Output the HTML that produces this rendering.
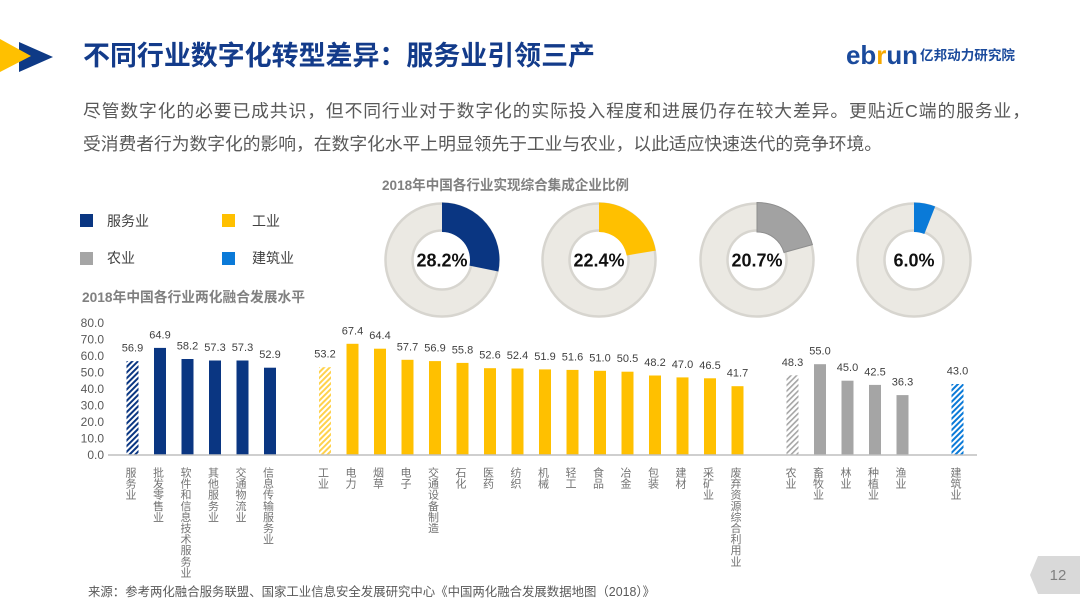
<!DOCTYPE html>
<html><head><meta charset="utf-8"><style>
html,body{margin:0;padding:0;background:#fff;}
svg{display:block;}
text{font-family:"Liberation Sans","Noto Sans CJK SC",sans-serif;}
</style></head><body>
<svg width="1080" height="608" viewBox="0 0 1080 608" xmlns="http://www.w3.org/2000/svg">
<defs>
<pattern id="hN" width="4" height="4" patternUnits="userSpaceOnUse" patternTransform="rotate(45)"><rect width="4" height="4" fill="#fff"/><rect width="2" height="4" fill="#0a3682"/></pattern>
<pattern id="hY" width="4" height="4" patternUnits="userSpaceOnUse" patternTransform="rotate(45)"><rect width="4" height="4" fill="#fff"/><rect width="2" height="4" fill="#ffd24d"/></pattern>
<pattern id="hG" width="4" height="4" patternUnits="userSpaceOnUse" patternTransform="rotate(45)"><rect width="4" height="4" fill="#fff"/><rect width="1.6" height="4" fill="#a5a5a5"/></pattern>
<pattern id="hB" width="4" height="4" patternUnits="userSpaceOnUse" patternTransform="rotate(45)"><rect width="4" height="4" fill="#fff"/><rect width="2" height="4" fill="#0a7ad8"/></pattern>
</defs>

<!-- header arrows -->
<polygon points="19,42 53,57 19,72" fill="#0e3a86"/>
<polygon points="0,39 31,56 0,72" fill="#ffc000"/>
<text x="83" y="65" font-size="27" font-weight="bold" fill="#133b8a" textLength="512" lengthAdjust="spacingAndGlyphs">不同行业数字化转型差异：服务业引领三产</text>

<!-- logo -->
<text x="846" y="64" font-size="26" font-weight="bold" fill="#1a4a9c" textLength="72" lengthAdjust="spacingAndGlyphs">eb<tspan fill="#f5a800">r</tspan>un</text>
<text x="920" y="60" font-size="13.6" font-weight="bold" fill="#1a4a9c" textLength="95" lengthAdjust="spacingAndGlyphs">亿邦动力研究院</text>

<!-- paragraph -->
<text x="83" y="117" font-size="17.8" fill="#595959" textLength="947" lengthAdjust="spacing">尽管数字化的必要已成共识，但不同行业对于数字化的实际投入程度和进展仍存在较大差异。更贴近C端的服务业，</text>
<text x="83" y="150" font-size="17.8" fill="#595959" textLength="799" lengthAdjust="spacing">受消费者行为数字化的影响，在数字化水平上明显领先于工业与农业，以此适应快速迭代的竞争环境。</text>

<!-- legend -->
<rect x="80" y="214" width="13" height="13" fill="#0a3682"/>
<text x="107" y="226" font-size="14" fill="#404040">服务业</text>
<rect x="222" y="214" width="13" height="13" fill="#ffc000"/>
<text x="252" y="226" font-size="14" fill="#404040">工业</text>
<rect x="80" y="252" width="13" height="13" fill="#a5a5a5"/>
<text x="107" y="263" font-size="14" fill="#404040">农业</text>
<rect x="222" y="252" width="13" height="13" fill="#0a7ad8"/>
<text x="252" y="263" font-size="14" fill="#404040">建筑业</text>

<!-- donut title -->
<text x="382" y="190" font-size="14" font-weight="bold" fill="#808080" textLength="247" lengthAdjust="spacingAndGlyphs">2018年中国各行业实现综合集成企业比例</text>

<!-- donuts -->
<g>
<circle cx="442" cy="260" r="43" fill="none" stroke="#ebe9e3" stroke-width="28"/>
<circle cx="442" cy="260" r="56.5" fill="none" stroke="#d7d5cf" stroke-width="2.5"/>
<circle cx="442" cy="260" r="29.5" fill="none" stroke="#d7d5cf" stroke-width="2.5"/>
<path d="M442,202.5 A57.5,57.5 0 0 1 498.34,271.48 L469.44,265.59 A28,28 0 0 0 442,232 Z" fill="#0a3682"/>
<text x="442" y="266.5" font-size="18" font-weight="bold" fill="#111" text-anchor="middle">28.2%</text>

<circle cx="599" cy="260" r="43" fill="none" stroke="#ebe9e3" stroke-width="28"/>
<circle cx="599" cy="260" r="56.5" fill="none" stroke="#d7d5cf" stroke-width="2.5"/>
<circle cx="599" cy="260" r="29.5" fill="none" stroke="#d7d5cf" stroke-width="2.5"/>
<path d="M599,202.5 A57.5,57.5 0 0 1 655.73,250.65 L626.63,255.44 A28,28 0 0 0 599,232 Z" fill="#ffc000"/>
<text x="599" y="266.5" font-size="18" font-weight="bold" fill="#111" text-anchor="middle">22.4%</text>

<circle cx="757" cy="260" r="43" fill="none" stroke="#ebe9e3" stroke-width="28"/>
<circle cx="757" cy="260" r="56.5" fill="none" stroke="#d7d5cf" stroke-width="2.5"/>
<circle cx="757" cy="260" r="29.5" fill="none" stroke="#d7d5cf" stroke-width="2.5"/>
<path d="M757,202.5 A57.5,57.5 0 0 1 812.41,244.65 L783.98,252.53 A28,28 0 0 0 757,232 Z" fill="#a2a2a2" stroke="#8e8e8e" stroke-width="1"/>
<text x="757" y="266.5" font-size="18" font-weight="bold" fill="#111" text-anchor="middle">20.7%</text>

<circle cx="914" cy="260" r="43" fill="none" stroke="#ebe9e3" stroke-width="28"/>
<circle cx="914" cy="260" r="56.5" fill="none" stroke="#d7d5cf" stroke-width="2.5"/>
<circle cx="914" cy="260" r="29.5" fill="none" stroke="#d7d5cf" stroke-width="2.5"/>
<path d="M914,202.5 A57.5,57.5 0 0 1 935.17,206.54 L924.31,233.97 A28,28 0 0 0 914,232 Z" fill="#0a7ad8"/>
<text x="914" y="266.5" font-size="18" font-weight="bold" fill="#111" text-anchor="middle">6.0%</text>
</g>

<!-- bar chart title -->
<text x="82" y="302" font-size="14" font-weight="bold" fill="#808080" textLength="223" lengthAdjust="spacingAndGlyphs">2018年中国各行业两化融合发展水平</text>

<!-- y axis labels -->
<g font-size="12" fill="#595959" text-anchor="end">
<text x="104" y="459.2">0.0</text>
<text x="104" y="442.7">10.0</text>
<text x="104" y="426.2">20.0</text>
<text x="104" y="409.7">30.0</text>
<text x="104" y="393.2">40.0</text>
<text x="104" y="376.7">50.0</text>
<text x="104" y="360.2">60.0</text>
<text x="104" y="343.7">70.0</text>
<text x="104" y="327.2">80.0</text>
</g>

<!-- bars -->
<g>
<rect x="126.5" y="361.1" width="12" height="93.9" fill="url(#hN)"/>
<rect x="154" y="347.9" width="12" height="107.1" fill="#0a3682"/>
<rect x="181.5" y="359.0" width="12" height="96.0" fill="#0a3682"/>
<rect x="209" y="360.5" width="12" height="94.5" fill="#0a3682"/>
<rect x="236.5" y="360.5" width="12" height="94.5" fill="#0a3682"/>
<rect x="264" y="367.7" width="12" height="87.3" fill="#0a3682"/>

<rect x="319" y="367.2" width="12" height="87.8" fill="url(#hY)"/>
<rect x="346.5" y="343.8" width="12" height="111.2" fill="#ffc000"/>
<rect x="374" y="348.7" width="12" height="106.3" fill="#ffc000"/>
<rect x="401.5" y="359.8" width="12" height="95.2" fill="#ffc000"/>
<rect x="429" y="361.1" width="12" height="93.9" fill="#ffc000"/>
<rect x="456.5" y="362.9" width="12" height="92.1" fill="#ffc000"/>
<rect x="484" y="368.2" width="12" height="86.8" fill="#ffc000"/>
<rect x="511.5" y="368.5" width="12" height="86.5" fill="#ffc000"/>
<rect x="539" y="369.4" width="12" height="85.6" fill="#ffc000"/>
<rect x="566.5" y="369.9" width="12" height="85.1" fill="#ffc000"/>
<rect x="594" y="370.8" width="12" height="84.2" fill="#ffc000"/>
<rect x="621.5" y="371.7" width="12" height="83.3" fill="#ffc000"/>
<rect x="649" y="375.5" width="12" height="79.5" fill="#ffc000"/>
<rect x="676.5" y="377.4" width="12" height="77.6" fill="#ffc000"/>
<rect x="704" y="378.3" width="12" height="76.7" fill="#ffc000"/>
<rect x="731.5" y="386.2" width="12" height="68.8" fill="#ffc000"/>

<rect x="786.5" y="375.3" width="12" height="79.7" fill="url(#hG)"/>
<rect x="814" y="364.2" width="12" height="90.8" fill="#a5a5a5"/>
<rect x="841.5" y="380.7" width="12" height="74.3" fill="#a5a5a5"/>
<rect x="869" y="384.9" width="12" height="70.1" fill="#a5a5a5"/>
<rect x="896.5" y="395.1" width="12" height="59.9" fill="#a5a5a5"/>

<rect x="951.5" y="384.0" width="12" height="71.0" fill="url(#hB)"/>
</g>

<line x1="108" y1="455" x2="977" y2="455" stroke="#bfbfbf" stroke-width="1.5"/>

<!-- value labels -->
<g font-size="11" fill="#404040" text-anchor="middle">
<text x="132.5" y="351.6">56.9</text>
<text x="160" y="338.4">64.9</text>
<text x="187.5" y="349.5">58.2</text>
<text x="215" y="351">57.3</text>
<text x="242.5" y="351">57.3</text>
<text x="270" y="358.2">52.9</text>
<text x="325" y="357.7">53.2</text>
<text x="352.5" y="334.3">67.4</text>
<text x="380" y="339.2">64.4</text>
<text x="407.5" y="350.3">57.7</text>
<text x="435" y="351.6">56.9</text>
<text x="462.5" y="353.4">55.8</text>
<text x="490" y="358.7">52.6</text>
<text x="517.5" y="359">52.4</text>
<text x="545" y="359.9">51.9</text>
<text x="572.5" y="360.4">51.6</text>
<text x="600" y="361.3">51.0</text>
<text x="627.5" y="362.2">50.5</text>
<text x="655" y="366">48.2</text>
<text x="682.5" y="367.9">47.0</text>
<text x="710" y="368.8">46.5</text>
<text x="737.5" y="376.7">41.7</text>
<text x="792.5" y="365.8">48.3</text>
<text x="820" y="354.7">55.0</text>
<text x="847.5" y="371.2">45.0</text>
<text x="875" y="375.4">42.5</text>
<text x="902.5" y="385.6">36.3</text>
<text x="957.5" y="374.5">43.0</text>
</g>

<!-- x labels (vertical) -->
<g font-size="11" fill="#737373" text-anchor="middle">
<text y="476.5"><tspan x="131">服</tspan><tspan x="131" dy="11.1">务</tspan><tspan x="131" dy="11.1">业</tspan></text>
<text y="476.5"><tspan x="158.5">批</tspan><tspan x="158.5" dy="11.1">发</tspan><tspan x="158.5" dy="11.1">零</tspan><tspan x="158.5" dy="11.1">售</tspan><tspan x="158.5" dy="11.1">业</tspan></text>
<text y="476.5"><tspan x="186">软</tspan><tspan x="186" dy="11.1">件</tspan><tspan x="186" dy="11.1">和</tspan><tspan x="186" dy="11.1">信</tspan><tspan x="186" dy="11.1">息</tspan><tspan x="186" dy="11.1">技</tspan><tspan x="186" dy="11.1">术</tspan><tspan x="186" dy="11.1">服</tspan><tspan x="186" dy="11.1">务</tspan><tspan x="186" dy="11.1">业</tspan></text>
<text y="476.5"><tspan x="213.5">其</tspan><tspan x="213.5" dy="11.1">他</tspan><tspan x="213.5" dy="11.1">服</tspan><tspan x="213.5" dy="11.1">务</tspan><tspan x="213.5" dy="11.1">业</tspan></text>
<text y="476.5"><tspan x="241">交</tspan><tspan x="241" dy="11.1">通</tspan><tspan x="241" dy="11.1">物</tspan><tspan x="241" dy="11.1">流</tspan><tspan x="241" dy="11.1">业</tspan></text>
<text y="476.5"><tspan x="268.5">信</tspan><tspan x="268.5" dy="11.1">息</tspan><tspan x="268.5" dy="11.1">传</tspan><tspan x="268.5" dy="11.1">输</tspan><tspan x="268.5" dy="11.1">服</tspan><tspan x="268.5" dy="11.1">务</tspan><tspan x="268.5" dy="11.1">业</tspan></text>
<text y="476.5"><tspan x="323.5">工</tspan><tspan x="323.5" dy="11.1">业</tspan></text>
<text y="476.5"><tspan x="351">电</tspan><tspan x="351" dy="11.1">力</tspan></text>
<text y="476.5"><tspan x="378.5">烟</tspan><tspan x="378.5" dy="11.1">草</tspan></text>
<text y="476.5"><tspan x="406">电</tspan><tspan x="406" dy="11.1">子</tspan></text>
<text y="476.5"><tspan x="433.5">交</tspan><tspan x="433.5" dy="11.1">通</tspan><tspan x="433.5" dy="11.1">设</tspan><tspan x="433.5" dy="11.1">备</tspan><tspan x="433.5" dy="11.1">制</tspan><tspan x="433.5" dy="11.1">造</tspan></text>
<text y="476.5"><tspan x="461">石</tspan><tspan x="461" dy="11.1">化</tspan></text>
<text y="476.5"><tspan x="488.5">医</tspan><tspan x="488.5" dy="11.1">药</tspan></text>
<text y="476.5"><tspan x="516">纺</tspan><tspan x="516" dy="11.1">织</tspan></text>
<text y="476.5"><tspan x="543.5">机</tspan><tspan x="543.5" dy="11.1">械</tspan></text>
<text y="476.5"><tspan x="571">轻</tspan><tspan x="571" dy="11.1">工</tspan></text>
<text y="476.5"><tspan x="598.5">食</tspan><tspan x="598.5" dy="11.1">品</tspan></text>
<text y="476.5"><tspan x="626">冶</tspan><tspan x="626" dy="11.1">金</tspan></text>
<text y="476.5"><tspan x="653.5">包</tspan><tspan x="653.5" dy="11.1">装</tspan></text>
<text y="476.5"><tspan x="681">建</tspan><tspan x="681" dy="11.1">材</tspan></text>
<text y="476.5"><tspan x="708.5">采</tspan><tspan x="708.5" dy="11.1">矿</tspan><tspan x="708.5" dy="11.1">业</tspan></text>
<text y="476.5"><tspan x="736">废</tspan><tspan x="736" dy="11.1">弃</tspan><tspan x="736" dy="11.1">资</tspan><tspan x="736" dy="11.1">源</tspan><tspan x="736" dy="11.1">综</tspan><tspan x="736" dy="11.1">合</tspan><tspan x="736" dy="11.1">利</tspan><tspan x="736" dy="11.1">用</tspan><tspan x="736" dy="11.1">业</tspan></text>
<text y="476.5"><tspan x="791">农</tspan><tspan x="791" dy="11.1">业</tspan></text>
<text y="476.5"><tspan x="818.5">畜</tspan><tspan x="818.5" dy="11.1">牧</tspan><tspan x="818.5" dy="11.1">业</tspan></text>
<text y="476.5"><tspan x="846">林</tspan><tspan x="846" dy="11.1">业</tspan></text>
<text y="476.5"><tspan x="873.5">种</tspan><tspan x="873.5" dy="11.1">植</tspan><tspan x="873.5" dy="11.1">业</tspan></text>
<text y="476.5"><tspan x="901">渔</tspan><tspan x="901" dy="11.1">业</tspan></text>
<text y="476.5"><tspan x="956">建</tspan><tspan x="956" dy="11.1">筑</tspan><tspan x="956" dy="11.1">业</tspan></text>
</g>

<!-- footer -->
<text x="88" y="596" font-size="12.5" fill="#595959" textLength="567" lengthAdjust="spacingAndGlyphs">来源：参考两化融合服务联盟、国家工业信息安全发展研究中心《中国两化融合发展数据地图（2018）》</text>

<!-- page number -->
<polygon points="1038,556 1080,556 1080,594 1038,594 1030,575" fill="#d9d9d9"/>
<text x="1058" y="580" font-size="15" fill="#808080" text-anchor="middle">12</text>
</svg>
</body></html>
